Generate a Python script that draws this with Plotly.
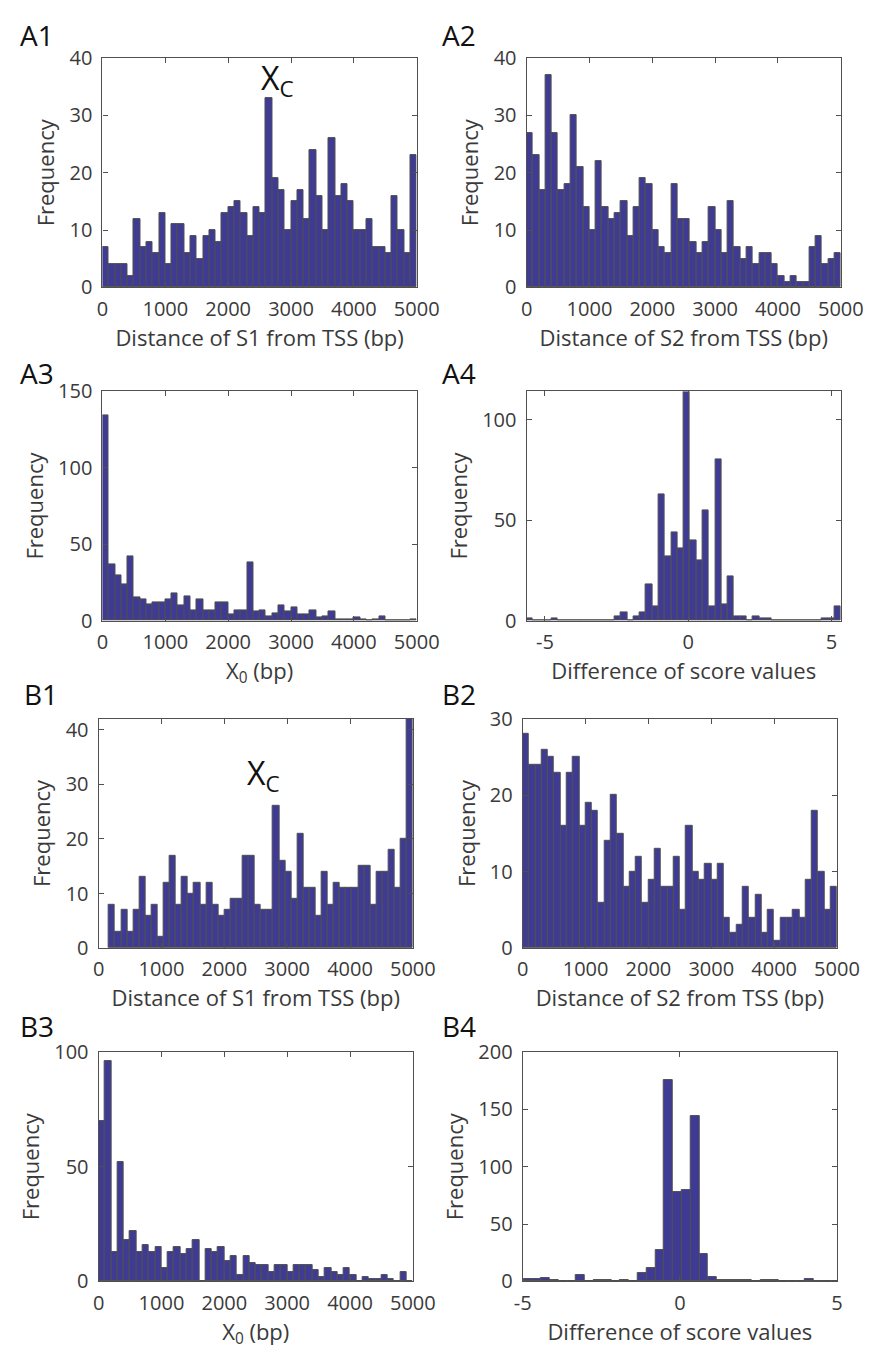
import plotly.graph_objects as go

# ---------------- data (histogram counts) ----------------
a1_counts = [7, 4, 4, 4, 2, 12, 7, 8, 6, 13, 4, 11, 11, 6, 9, 5, 9, 10, 8, 13,
             14, 15, 13, 9, 14, 13, 33, 19, 17, 10, 15, 17, 12, 24, 16, 10, 26, 16, 18, 15,
             10, 10, 12, 7, 7, 6, 16, 10, 6, 23]
a1_start, a1_width = 0, 100

a2_counts = [27, 23, 17, 37, 27, 17, 18, 30, 21, 14, 10, 22, 14, 12, 13, 15, 9, 14, 19, 18,
             10, 7, 6, 18, 12, 12, 8, 6, 8, 14, 10, 6, 15, 7, 5, 7, 4, 6, 6, 4,
             2, 1, 2, 1, 1, 7, 9, 4, 5, 6]
a2_start, a2_width = 0, 100

a3_counts = [134, 37, 30, 24, 42, 15, 14, 11, 12, 12, 14, 18, 10, 16, 7, 14, 7, 7, 12, 12,
             4, 7, 7, 38, 6, 7, 3, 5, 10, 6, 9, 4, 4, 7, 2, 3, 6, 1, 1, 1,
             2, 1, 0, 1, 3, 0, 0, 0, 0, 1]
a3_start, a3_width = 0, 100

a4_counts = [1, 0, 0, 0, 1, 0, 0, 0, 0, 0, 0, 0, 0, 0, 2, 4, 0, 2, 4, 18,
             7, 63, 32, 44, 36, 114, 40, 30, 55, 7, 80, 8, 22, 2, 2, 0, 2, 1, 1, 0,
             0, 0, 0, 0, 0, 0, 0, 1, 1, 7]
a4_start, a4_width = -5.64, 0.2194

b1_counts = [8, 3, 7, 3, 7, 13, 6, 8, 2, 12, 17, 8, 13, 10, 12, 8, 12, 8, 6, 7,
             9, 9, 17, 17, 8, 7, 7, 26, 16, 14, 9, 21, 11, 11, 6, 14, 8, 12, 11, 11,
             11, 15, 15, 8, 14, 14, 18, 11, 20, 42]
b1_start, b1_width = 165, 96.7

b2_counts = [28, 24, 24, 26, 25, 23, 16, 23, 25, 16, 19, 18, 6, 14, 20, 15, 8, 10, 12, 6,
             9, 13, 8, 8, 12, 5, 16, 10, 9, 11, 9, 11, 4, 2, 3, 8, 4, 7, 2, 5,
             1, 4, 4, 5, 4, 9, 18, 10, 5, 8]
b2_start, b2_width = 0, 100

b3_counts = [70, 96, 13, 52, 18, 22, 13, 16, 13, 15, 6, 13, 15, 12, 14, 18, 0, 14, 13, 15,
             9, 11, 3, 11, 8, 7, 7, 4, 7, 7, 4, 7, 7, 7, 5, 2, 6, 4, 3, 6,
             3, 0, 2, 1, 1, 3, 1, 0, 4, 0]
b3_start, b3_width = 0, 100

b4_counts = [2, 2, 3, 1, 0, 0, 6, 0, 1, 1, 0, 1, 0, 7, 12, 27, 176, 78, 80, 144,
             24, 4, 1, 1, 1, 1, 0, 1, 1, 0, 0, 0, 2, 0, 0, 0]
b4_start, b4_width = -4.98, 0.28

dist_ticks = [0, 1000, 2000, 3000, 4000, 5000]
score_ticks = [-5, 0, 5]
score_tick_text = ["-5", "0", "5"]

# ---------------- style ----------------
W, H = 886, 1367
BAR = "#3f3b94"
EDGE = "#4f4f4f"
AXC = "#505050"
TXT = "#3a3a3a"
FONT = "Open Sans"


def px_x(p):
    return p / W


def px_y(p):
    return 1 - p / H


colL = (97, 423)
colR = (537, 863)
colLb = (93, 419)
colRb = (533, 859)
rows = [(45, 279), (385, 619), (719, 953), (1059, 1293)]

panels = [
    dict(c=a1_counts, s=a1_start, w=a1_width, xd=colL, yd=rows[0], xr=[0, 5000], yr=[0, 40],
         yt=[0, 10, 20, 30, 40], xt=dist_ticks, xtt=None, xl="Distance of S1 from TSS (bp)"),
    dict(c=a2_counts, s=a2_start, w=a2_width, xd=colR, yd=rows[0], xr=[0, 5000], yr=[0, 40],
         yt=[0, 10, 20, 30, 40], xt=dist_ticks, xtt=None, xl="Distance of S2 from TSS (bp)"),
    dict(c=a3_counts, s=a3_start, w=a3_width, xd=colL, yd=rows[1], xr=[0, 5000], yr=[0, 150],
         yt=[0, 50, 100, 150], xt=dist_ticks, xtt=None, xl="X<sub>0</sub> (bp)"),
    dict(c=a4_counts, s=a4_start, w=a4_width, xd=colR, yd=rows[1], xr=[-5.64, 5.33], yr=[0, 114],
         yt=[0, 50, 100], xt=score_ticks, xtt=score_tick_text, xl="Difference of score values"),
    dict(c=b1_counts, s=b1_start, w=b1_width, xd=colLb, yd=rows[2], xr=[0, 5000], yr=[0, 42],
         yt=[0, 10, 20, 30, 40], xt=dist_ticks, xtt=None, xl="Distance of S1 from TSS (bp)"),
    dict(c=b2_counts, s=b2_start, w=b2_width, xd=colRb, yd=rows[2], xr=[0, 5000], yr=[0, 30],
         yt=[0, 10, 20, 30], xt=dist_ticks, xtt=None, xl="Distance of S2 from TSS (bp)"),
    dict(c=b3_counts, s=b3_start, w=b3_width, xd=colLb, yd=rows[3], xr=[0, 5000], yr=[0, 100],
         yt=[0, 50, 100], xt=dist_ticks, xtt=None, xl="X<sub>0</sub> (bp)"),
    dict(c=b4_counts, s=b4_start, w=b4_width, xd=colRb, yd=rows[3], xr=[-5, 5], yr=[0, 200],
         yt=[0, 50, 100, 150, 200], xt=score_ticks, xtt=score_tick_text, xl="Difference of score values"),
]

fig = go.Figure()
layout = {}
for i, p in enumerate(panels):
    n = i + 1
    xa = "x" if n == 1 else f"x{n}"
    ya = "y" if n == 1 else f"y{n}"
    centers = [p["s"] + p["w"] * (k + 0.5) for k in range(len(p["c"]))]
    fig.add_trace(go.Bar(
        x=centers, y=p["c"], width=p["w"], xaxis=xa, yaxis=ya,
        marker=dict(color=BAR, line=dict(color=EDGE, width=1)),
        showlegend=False, hoverinfo="x+y",
    ))
    common = dict(showline=True, linecolor=AXC, linewidth=1.2, mirror="ticks",
                  ticks="inside", ticklen=5, tickwidth=1.2, tickcolor=AXC,
                  showgrid=False, zeroline=False,
                  tickfont=dict(family=FONT, size=20, color=TXT))
    xkw = dict(common, domain=[px_x(p["xd"][0]), px_x(p["xd"][1])], range=p["xr"],
               anchor=ya, tickvals=p["xt"], ticklabelstandoff=3,
               title=dict(text=p["xl"], font=dict(family=FONT, size=22, color=TXT), standoff=8))
    if p["xtt"] is not None:
        xkw["ticktext"] = p["xtt"]
    ykw = dict(common, domain=[px_y(p["yd"][1]), px_y(p["yd"][0])], range=p["yr"],
               anchor=xa, tickvals=p["yt"], ticklabelstandoff=5,
               title=dict(text="Frequency", font=dict(family=FONT, size=22, color=TXT), standoff=8))
    layout["xaxis" if n == 1 else f"xaxis{n}"] = xkw
    layout["yaxis" if n == 1 else f"yaxis{n}"] = ykw

annotations = []
labels = [("A1", 9, 21), ("A2", 447, 21), ("A3", 9, 366), ("A4", 447, 366),
          ("B1", 14, 694), ("B2", 447, 694), ("B3", 9, 1032), ("B4", 447, 1032)]
for t, x, y in labels:
    annotations.append(dict(text=t, x=px_x(x), y=px_y(y), xref="paper", yref="paper",
                            xanchor="left", yanchor="middle", showarrow=False,
                            font=dict(family=FONT, size=28, color="#111111")))
# X_C markers
annotations.append(dict(text="X<sub>C</sub>", x=2485, y=36.2, xref="x", yref="y",
                        xanchor="left", yanchor="middle", showarrow=False,
                        font=dict(family=FONT, size=32, color="#111111")))
annotations.append(dict(text="X<sub>C</sub>", x=2331, y=31.8, xref="x5", yref="y5",
                        xanchor="left", yanchor="middle", showarrow=False,
                        font=dict(family=FONT, size=32, color="#111111")))

fig.update_layout(
    width=W, height=H, margin=dict(l=0, r=0, t=0, b=0),
    paper_bgcolor="white", plot_bgcolor="white", bargap=0,
    annotations=annotations, **layout,
)
fig.write_html("out.html")
